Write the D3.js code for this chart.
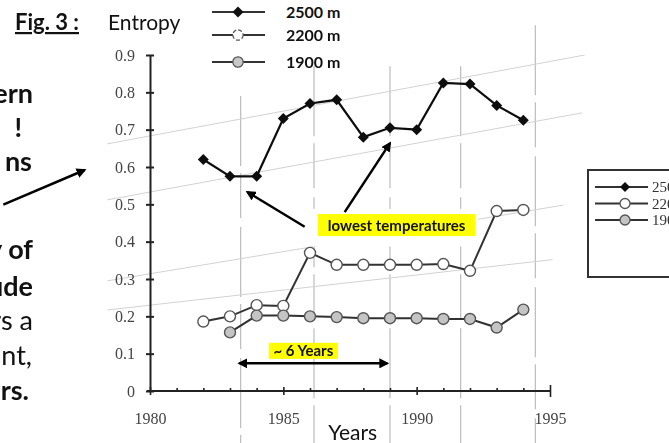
<!DOCTYPE html>
<html>
<head>
<meta charset="utf-8">
<script src="https://cdn.jsdelivr.net/npm/d3@7"></script>
<style>
  html, body { margin: 0; padding: 0; background: #fff; overflow: hidden; }
  svg { display: block; }
</style>
</head>
<body>
<svg id="chart" width="669" height="443"></svg>
<script>
// ---- data -------------------------------------------------------------
const seriesNames = ["2500 m", "2200 m", "1900 m"];

const years2500   = [1982, 1983, 1984, 1985, 1986, 1987, 1988, 1989, 1990, 1991, 1992, 1993, 1994];
const entropy2500 = [0.62, 0.575, 0.575, 0.73, 0.77, 0.78, 0.68, 0.705, 0.70, 0.825, 0.822, 0.765, 0.725];

const years2200   = [1982, 1983, 1984, 1985, 1986, 1987, 1988, 1989, 1990, 1991, 1992, 1993, 1994];
const entropy2200 = [0.186, 0.2, 0.23, 0.228, 0.37, 0.338, 0.338, 0.338, 0.338, 0.34, 0.322, 0.482, 0.485];

const years1900   = [1983, 1984, 1985, 1986, 1987, 1988, 1989, 1990, 1991, 1992, 1993, 1994];
const entropy1900 = [0.157, 0.202, 0.202, 0.2, 0.198, 0.195, 0.195, 0.195, 0.193, 0.193, 0.17, 0.218];

const yTickValues = [0, 0.1, 0.2, 0.3, 0.4, 0.5, 0.6, 0.7, 0.8, 0.9];
const yTickLabels = ["0", "0.1", "0.2", "0.3", "0.4", "0.5", "0.6", "0.7", "0.8", "0.9"];
const xTickLabels = [1980, 1985, 1990, 1995];

// ---- setup ------------------------------------------------------------
const svg = d3.select("#chart");
const x = d3.scaleLinear().domain([1980, 1995]).range([150, 550]);
const y = d3.scaleLinear().domain([0, 0.9]).range([391, 55]);

const SLIDE_FONT = "Lato, 'Open Sans', sans-serif";
const SERIF = "'Liberation Serif', 'DejaVu Serif', serif";

const defs = svg.append("defs");
defs.append("filter").attr("id", "soft")
  .append("feGaussianBlur").attr("stdDeviation", 0.5);
defs.append("marker")
  .attr("id", "head").attr("viewBox", "0 0 10 10")
  .attr("refX", 8).attr("refY", 5)
  .attr("markerWidth", 4).attr("markerHeight", 4)
  .attr("orient", "auto-start-reverse")
  .append("path").attr("d", "M0,0 L10,5 L0,10 Z").attr("fill", "#000");

const diamond = r => `M0,${-r}L${r},0L0,${r}L${-r},0Z`;

// ---- printed figure (soft, scanned look) ------------------------------
const fig = svg.append("g").attr("filter", "url(#soft)");

// faint vertical page rules
const ruleYears = [1983.4, 1986.15, 1989.0, 1991.65, 1994.45];
const ruleTops  = [0.79, 0.87, 0.87, 0.87, 0.98];
fig.selectAll("line.vrule").data(ruleYears).join("line")
  .attr("class", "vrule")
  .attr("x1", d => x(d)).attr("x2", d => x(d))
  .attr("y1", (d, i) => y(ruleTops[i])).attr("y2", y(-0.15))
  .attr("stroke", "#bcbcbc").attr("stroke-width", 1.2)
  .attr("stroke-dasharray", "70,7,45,9");

// faint slanted rules
const slantRules = [
  [[1978.4, 0.662], [1996.3, 0.90]],
  [[1978.4, 0.512], [1996.2, 0.745]],
  [[1978.4, 0.295], [1995.5, 0.498]],
  [[1978.4, 0.217], [1995.1, 0.352]]
];
fig.selectAll("line.srule").data(slantRules).join("line")
  .attr("class", "srule")
  .attr("x1", d => x(d[0][0])).attr("y1", d => y(d[0][1]))
  .attr("x2", d => x(d[1][0])).attr("y2", d => y(d[1][1]))
  .attr("stroke", "#d2d2d2").attr("stroke-width", 1);

// y axis
const yAxis = fig.append("g").attr("transform", `translate(${x(1980)},0)`)
  .call(d3.axisLeft(y).tickValues(yTickValues)
    .tickFormat((d, i) => yTickLabels[i]).tickSizeOuter(0));
yAxis.select(".domain").attr("stroke", "#222").attr("stroke-width", 2);
yAxis.selectAll(".tick line").attr("x1", -4).attr("x2", 4)
  .attr("stroke", "#222").attr("stroke-width", 2);
yAxis.selectAll(".tick text").attr("x", -15)
  .attr("font-family", SERIF).attr("font-size", 16).attr("fill", "#444");

// x axis
const xAxis = fig.append("g").attr("transform", `translate(0,${y(0)})`)
  .call(d3.axisBottom(x).tickValues(d3.range(1980, 1996))
    .tickFormat(d => xTickLabels.includes(d) ? d : "").tickSizeOuter(0));
xAxis.select(".domain").attr("stroke", "#222").attr("stroke-width", 2)
  .attr("d", `M${x(1980) - 3},0H${x(1995) + 1}`);
xAxis.selectAll(".tick line")
  .attr("y1", d => d === 1995 ? -6 : (d % 5 === 0 ? -4 : -3))
  .attr("y2", d => d === 1995 ? 6 : (d % 5 === 0 ? 4 : 0))
  .attr("stroke", "#222").attr("stroke-width", 1.6);
xAxis.selectAll(".tick text").attr("y", 22)
  .attr("font-family", SERIF).attr("font-size", 16).attr("fill", "#444");

// series
const line = d3.line().x(d => x(d[0])).y(d => y(d[1]));
const s2500 = years2500.map((t, i) => [t, entropy2500[i]]);
const s2200 = years2200.map((t, i) => [t, entropy2200[i]]);
const s1900 = years1900.map((t, i) => [t, entropy1900[i]]);

fig.append("path").datum(s2200).attr("d", line)
  .attr("fill", "none").attr("stroke", "#333").attr("stroke-width", 2);
fig.selectAll("circle.p2200").data(s2200).join("circle")
  .attr("class", "p2200")
  .attr("cx", d => x(d[0])).attr("cy", d => y(d[1])).attr("r", 5.5)
  .attr("fill", "#fff").attr("stroke", "#555").attr("stroke-width", 1.4);

fig.append("path").datum(s1900).attr("d", line)
  .attr("fill", "none").attr("stroke", "#333").attr("stroke-width", 2);
fig.selectAll("circle.p1900").data(s1900).join("circle")
  .attr("class", "p1900")
  .attr("cx", d => x(d[0])).attr("cy", d => y(d[1])).attr("r", 5.5)
  .attr("fill", "#c4c4c4").attr("stroke", "#555").attr("stroke-width", 1.4);

fig.append("path").datum(s2500).attr("d", line)
  .attr("fill", "none").attr("stroke", "#111").attr("stroke-width", 2.2);
fig.selectAll("path.p2500").data(s2500).join("path")
  .attr("class", "p2500")
  .attr("transform", d => `translate(${x(d[0])},${y(d[1])})`)
  .attr("d", diamond(5.5)).attr("fill", "#111");

// boxed legend on the right of the figure (runs off the page edge)
const boxLegend = fig.append("g").attr("transform", "translate(588,170)");
boxLegend.append("rect").attr("width", 120).attr("height", 107)
  .attr("fill", "#fff").attr("stroke", "#333").attr("stroke-width", 2);
seriesNames.forEach((name, i) => {
  const row = boxLegend.append("g").attr("transform", `translate(0,${17 + i * 16.5})`);
  row.append("line").attr("x1", 7).attr("x2", 60)
    .attr("stroke", "#333").attr("stroke-width", 2);
  if (i === 0) row.append("path").attr("transform", "translate(37,0)")
    .attr("d", diamond(5)).attr("fill", "#111");
  else row.append("circle").attr("cx", 37).attr("r", 5)
    .attr("fill", i === 1 ? "#fff" : "#c4c4c4").attr("stroke", "#555").attr("stroke-width", 1.3);
  row.append("text").attr("x", 64).attr("y", 5)
    .attr("font-family", SERIF).attr("font-size", 15).attr("fill", "#333").text(name);
});

// ---- slide overlay (crisp) -------------------------------------------
const slide = svg.append("g");

// top legend
seriesNames.forEach((name, i) => {
  const cy = [12, 35, 62][i];
  const row = slide.append("g").attr("transform", `translate(0,${cy})`);
  row.append("line").attr("x1", 212).attr("x2", 265)
    .attr("stroke", "#333").attr("stroke-width", 2.2);
  if (i === 0) row.append("path").attr("transform", "translate(238,0)")
    .attr("d", diamond(5.5)).attr("fill", "#111");
  else row.append("circle").attr("cx", 238).attr("r", 5.2)
    .attr("fill", i === 1 ? "#fff" : "#c8c8c8")
    .attr("stroke", "#555").attr("stroke-width", 1.3)
    .attr("stroke-dasharray", i === 1 ? "4,2" : null);
  row.append("text").attr("x", 286).attr("y", 6)
    .attr("font-family", SLIDE_FONT).attr("font-weight", 700)
    .attr("font-size", 16).attr("fill", "#111").text(name);
});

// title and axis captions
slide.append("text").attr("x", 15).attr("y", 30)
  .attr("font-family", SLIDE_FONT).attr("font-weight", 700).attr("font-size", 22)
  .attr("text-decoration", "underline").attr("fill", "#111").text("Fig. 3 :");
slide.append("text").attr("x", 108).attr("y", 30)
  .attr("font-family", SLIDE_FONT).attr("font-size", 21).attr("fill", "#111").text("Entropy");
slide.append("text").attr("x", x(1987.6)).attr("y", 440).attr("text-anchor", "middle")
  .attr("font-family", SLIDE_FONT).attr("font-size", 21).attr("fill", "#111").text("Years");

// running text on the left edge of the slide
const sideText = [
  { t: "ern",  w: 700, r: 33, b: 103 },
  { t: "!",    w: 700, r: 22, b: 137 },
  { t: "ns",   w: 700, r: 32, b: 171 },
  { t: "y of", w: 700, r: 33, b: 259 },
  { t: "ude",  w: 700, r: 33, b: 296 },
  { t: "rs a", w: 400, r: 33, b: 330 },
  { t: "nt,",  w: 400, r: 32, b: 365 },
  { t: "rs.",  w: 700, r: 29, b: 400 }
];
slide.selectAll("text.side").data(sideText).join("text")
  .attr("class", "side")
  .attr("x", d => d.r).attr("y", d => d.b).attr("text-anchor", "end")
  .attr("font-family", SLIDE_FONT).attr("font-weight", d => d.w)
  .attr("font-size", 27).attr("fill", "#111").text(d => d.t);

// arrow from the text towards the chart
slide.append("line")
  .attr("x1", x(1974.5)).attr("y1", y(0.499))
  .attr("x2", x(1977.55)).attr("y2", y(0.592))
  .attr("stroke", "#000").attr("stroke-width", 2.5).attr("marker-end", "url(#head)");

// "lowest temperatures" callout
slide.append("rect")
  .attr("x", x(1986.1)).attr("y", y(0.488))
  .attr("width", x(1992.3) - x(1986.1)).attr("height", y(0.387) - y(0.488))
  .attr("fill", "#fff");
slide.append("rect")
  .attr("x", x(1986.3)).attr("y", y(0.474))
  .attr("width", x(1992.2) - x(1986.3)).attr("height", y(0.415) - y(0.474))
  .attr("fill", "#ffff00");
slide.append("text").attr("x", x(1989.25)).attr("y", y(0.428)).attr("text-anchor", "middle")
  .attr("font-family", SLIDE_FONT).attr("font-weight", 700).attr("font-size", 15)
  .attr("fill", "#111").text("lowest temperatures");
slide.append("line")
  .attr("x1", x(1985.8)).attr("y1", y(0.44))
  .attr("x2", x(1983.65)).attr("y2", y(0.533))
  .attr("stroke", "#000").attr("stroke-width", 2.5).attr("marker-end", "url(#head)");
slide.append("line")
  .attr("x1", x(1987.3)).attr("y1", y(0.479))
  .attr("x2", x(1989.0)).attr("y2", y(0.664))
  .attr("stroke", "#000").attr("stroke-width", 2.5).attr("marker-end", "url(#head)");

// "~ 6 Years" span
slide.append("rect")
  .attr("x", x(1984.45)).attr("y", y(0.129))
  .attr("width", x(1987.05) - x(1984.45)).attr("height", y(0.086) - y(0.129))
  .attr("fill", "#ffff00");
slide.append("text").attr("x", x(1985.75)).attr("y", y(0.093)).attr("text-anchor", "middle")
  .attr("font-family", SLIDE_FONT).attr("font-weight", 700).attr("font-size", 15)
  .attr("fill", "#111").text("~ 6 Years");
slide.append("line")
  .attr("x1", x(1983.35)).attr("y1", y(0.074))
  .attr("x2", x(1988.9)).attr("y2", y(0.074))
  .attr("stroke", "#000").attr("stroke-width", 2.5)
  .attr("marker-start", "url(#head)").attr("marker-end", "url(#head)");
</script>
</body>
</html>
